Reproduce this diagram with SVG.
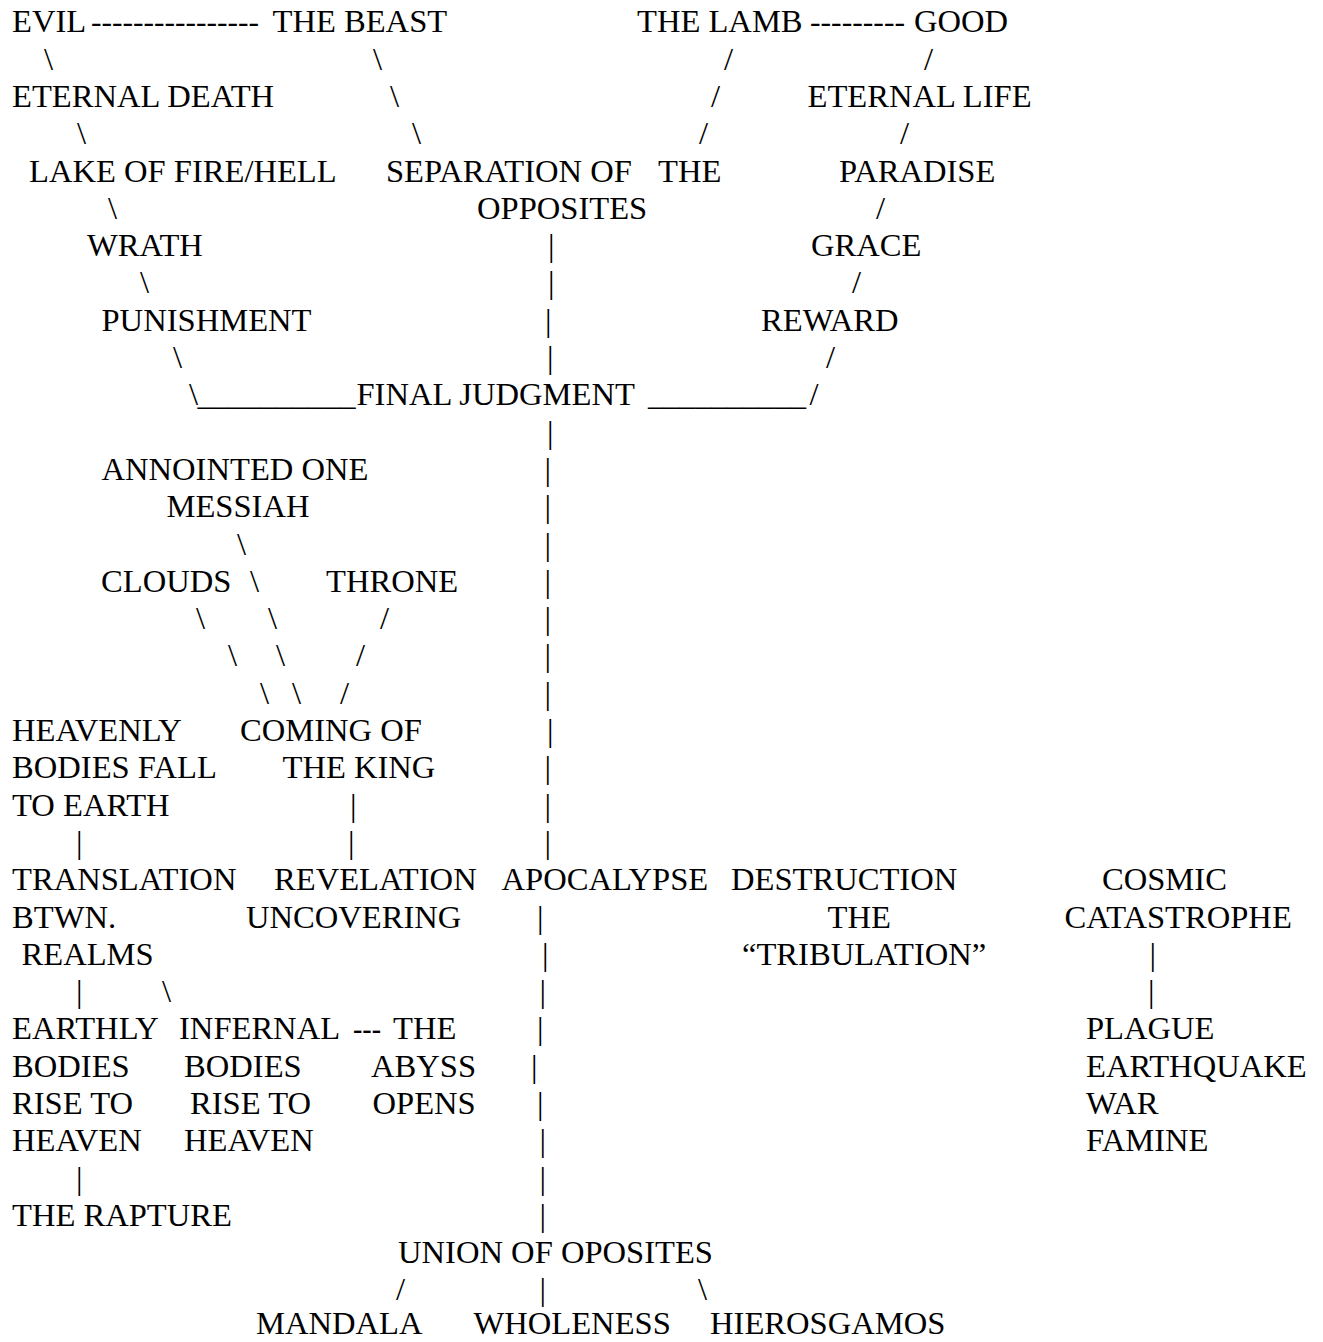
<svg xmlns="http://www.w3.org/2000/svg" width="1323" height="1342" viewBox="0 0 1323 1342">
<style>
text{font-family:"Liberation Serif","Times New Roman",serif;font-size:32.6px;fill:#000;}
</style>
<rect width="1323" height="1342" fill="#fff"/>
<g id="connectors">
<text x="91" y="32.3" textLength="168" lengthAdjust="spacingAndGlyphs">----------------</text>
<text x="810" y="32.3" textLength="95" lengthAdjust="spacingAndGlyphs">---------</text>
<text x="44" y="69.6">\</text><text x="373" y="69.6">\</text><text x="724" y="69.6">/</text><text x="924" y="69.6">/</text>
<text x="390" y="106.9">\</text><text x="711" y="106.9">/</text>
<text x="77" y="144.2">\</text><text x="412" y="144.2">\</text><text x="699" y="144.2">/</text><text x="900" y="144.2">/</text>
<text x="108" y="218.8">\</text><text x="876" y="218.8">/</text>
<text x="548" y="256.1">|</text>
<text x="140" y="293.4">\</text><text x="548" y="293.4">|</text><text x="852" y="293.4">/</text>
<text x="545" y="330.7">|</text>
<text x="173" y="368">\</text><text x="547" y="368">|</text><text x="826" y="368">/</text>
<text x="189" y="405.3">\</text>
<text x="197.5" y="405.3" textLength="158" lengthAdjust="spacingAndGlyphs">__________</text>
<text x="648" y="405.3" textLength="158" lengthAdjust="spacingAndGlyphs">__________</text>
<text x="809.5" y="405.3">/</text>
<text x="547" y="442.6">|</text>
<text x="544.5" y="479.9">|</text>
<text x="544.5" y="517.2">|</text>
<text x="237" y="554.5">\</text><text x="544.5" y="554.5">|</text>
<text x="250" y="591.8">\</text><text x="544.5" y="591.8">|</text>
<text x="196" y="629.1">\</text><text x="268" y="629.1">\</text><text x="380" y="629.1">/</text><text x="544.5" y="629.1">|</text>
<text x="228" y="666.4">\</text><text x="276" y="666.4">\</text><text x="356" y="666.4">/</text><text x="544.5" y="666.4">|</text>
<text x="260" y="703.7">\</text><text x="292" y="703.7">\</text><text x="340" y="703.7">/</text><text x="544.5" y="703.7">|</text>
<text x="547" y="741">|</text>
<text x="544.5" y="778.3">|</text>
<text x="350" y="815.6">|</text><text x="544.5" y="815.6">|</text>
<text x="76" y="852.9">|</text><text x="348" y="852.9">|</text><text x="544.5" y="852.9">|</text>
<text x="537" y="927.5">|</text>
<text x="542" y="964.8">|</text><text x="1149.5" y="964.8">|</text>
<text x="76" y="1002.1">|</text><text x="162" y="1002.1">\</text><text x="539.5" y="1002.1">|</text><text x="1148" y="1002.1">|</text>
<text x="353" y="1039.4" textLength="28" lengthAdjust="spacingAndGlyphs">---</text><text x="537" y="1039.4">|</text>
<text x="531" y="1076.7">|</text>
<text x="537" y="1114">|</text>
<text x="539.5" y="1151.3">|</text>
<text x="76" y="1188.6">|</text><text x="539.5" y="1188.6">|</text>
<text x="539.5" y="1225.9">|</text>
<text x="396" y="1299.5">/</text><text x="539.5" y="1299.5">|</text><text x="698" y="1299.5">\</text>
</g>
<g id="n-evil"><text x="12" y="32.3">EVIL</text></g>
<g id="n-beast"><text x="272.5" y="32.3">THE BEAST</text></g>
<g id="n-lamb"><text x="637" y="32.3">THE LAMB</text></g>
<g id="n-good"><text x="914" y="32.3">GOOD</text></g>
<g id="n-eternal-death"><text x="12" y="106.9">ETERNAL DEATH</text></g>
<g id="n-eternal-life"><text x="807.5" y="106.9">ETERNAL LIFE</text></g>
<g id="n-lake"><text x="29" y="181.5">LAKE OF FIRE/HELL</text></g>
<g id="n-separation"><text><tspan x="386" y="181.5">SEPARATION OF</tspan><tspan x="658" y="181.5">THE</tspan><tspan x="477" y="218.8">OPPOSITES</tspan></text></g>
<g id="n-paradise"><text x="839" y="181.5">PARADISE</text></g>
<g id="n-wrath"><text x="87" y="256.1">WRATH</text></g>
<g id="n-grace"><text x="811" y="256.1">GRACE</text></g>
<g id="n-punishment"><text x="101.5" y="330.7">PUNISHMENT</text></g>
<g id="n-reward"><text x="761" y="330.7">REWARD</text></g>
<g id="n-final"><text x="356.5" y="405.3">FINAL JUDGMENT</text></g>
<g id="n-anointed"><text><tspan x="101.5" y="479.9">ANNOINTED ONE</tspan><tspan x="166.5" y="517.2">MESSIAH</tspan></text></g>
<g id="n-clouds"><text x="101" y="591.8">CLOUDS</text></g>
<g id="n-throne"><text x="326" y="591.8">THRONE</text></g>
<g id="n-heavenly"><text><tspan x="12" y="741">HEAVENLY</tspan><tspan x="12" y="778.3">BODIES FALL</tspan><tspan x="12" y="815.6">TO EARTH</tspan></text></g>
<g id="n-coming"><text><tspan x="240" y="741">COMING OF</tspan><tspan x="282.5" y="778.3">THE KING</tspan></text></g>
<g id="n-translation"><text><tspan x="12" y="890.2">TRANSLATION</tspan><tspan x="12" y="927.5">BTWN.</tspan><tspan x="21.5" y="964.8">REALMS</tspan></text></g>
<g id="n-revelation"><text><tspan x="274" y="890.2">REVELATION</tspan><tspan x="246" y="927.5">UNCOVERING</tspan></text></g>
<g id="n-apocalypse"><text x="501.5" y="890.2">APOCALYPSE</text></g>
<g id="n-destruction"><text><tspan x="731" y="890.2">DESTRUCTION</tspan><tspan x="827.5" y="927.5">THE</tspan><tspan x="742" y="964.8">“TRIBULATION”</tspan></text></g>
<g id="n-cosmic"><text><tspan x="1102" y="890.2">COSMIC</tspan><tspan x="1064.5" y="927.5">CATASTROPHE</tspan></text></g>
<g id="n-earthly"><text><tspan x="12" y="1039.4">EARTHLY</tspan><tspan x="12" y="1076.7">BODIES</tspan><tspan x="12" y="1114">RISE TO</tspan><tspan x="12" y="1151.3">HEAVEN</tspan></text></g>
<g id="n-infernal"><text><tspan x="179" y="1039.4">INFERNAL</tspan><tspan x="184" y="1076.7">BODIES</tspan><tspan x="190" y="1114">RISE TO</tspan><tspan x="184" y="1151.3">HEAVEN</tspan></text></g>
<g id="n-abyss"><text><tspan x="393" y="1039.4">THE</tspan><tspan x="371" y="1076.7">ABYSS</tspan><tspan x="372.5" y="1114">OPENS</tspan></text></g>
<g id="n-plague"><text><tspan x="1086" y="1039.4">PLAGUE</tspan><tspan x="1086" y="1076.7">EARTHQUAKE</tspan><tspan x="1086" y="1114">WAR</tspan><tspan x="1086" y="1151.3">FAMINE</tspan></text></g>
<g id="n-rapture"><text x="12" y="1225.9">THE RAPTURE</text></g>
<g id="n-union"><text x="398" y="1263.2">UNION OF OPOSITES</text></g>
<g id="n-mandala"><text x="256" y="1334">MANDALA</text></g>
<g id="n-wholeness"><text x="473.5" y="1334">WHOLENESS</text></g>
<g id="n-hieros"><text x="710" y="1334">HIEROSGAMOS</text></g>
</svg>
